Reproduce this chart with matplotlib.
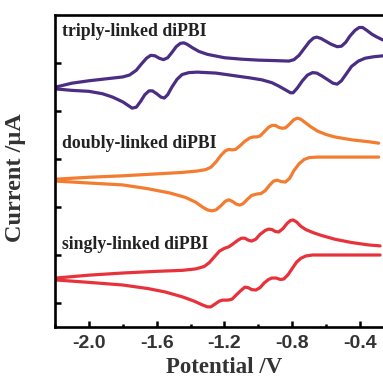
import matplotlib
matplotlib.use("Agg")
import matplotlib.pyplot as plt
from matplotlib.ticker import MultipleLocator

# triply-linked diPBI, forward (upper) and reverse (lower) branches
tri_up_v = [-2.194, -2.10, -2.0, -1.90, -1.80, -1.76, -1.72, -1.69, -1.66, -1.635,
            -1.61, -1.585, -1.56, -1.535, -1.51, -1.485, -1.46, -1.44, -1.42, -1.39,
            -1.35, -1.30, -1.20, -1.10, -1.00, -0.90, -0.82, -0.79, -0.76, -0.73,
            -0.70, -0.675, -0.655, -0.63, -0.60, -0.57, -0.535, -0.51, -0.485, -0.46,
            -0.43, -0.405, -0.385, -0.36, -0.33, -0.30, -0.265]
tri_up_i = [5.00, 5.08, 5.13, 5.17, 5.21, 5.25, 5.35, 5.48, 5.60, 5.66,
            5.65, 5.60, 5.57, 5.61, 5.72, 5.84, 5.91, 5.92, 5.89, 5.82,
            5.74, 5.68, 5.61, 5.58, 5.56, 5.55, 5.54, 5.57, 5.66, 5.80,
            5.94, 6.02, 6.04, 6.01, 5.95, 5.89, 5.84, 5.85, 5.93, 6.06,
            6.18, 6.24, 6.24, 6.18, 6.10, 6.04, 5.98]
tri_dn_v = [-2.194, -2.10, -2.0, -1.92, -1.86, -1.80, -1.77, -1.745, -1.72, -1.695,
            -1.67, -1.645, -1.625, -1.60, -1.575, -1.555, -1.535, -1.51, -1.48, -1.45,
            -1.41, -1.36, -1.25, -1.15, -1.05, -0.98, -0.92, -0.88, -0.84, -0.81,
            -0.795, -0.77, -0.74, -0.71, -0.68, -0.655, -0.625, -0.59, -0.56, -0.535,
            -0.51, -0.48, -0.45, -0.41, -0.37, -0.32, -0.265]
tri_dn_i = [4.96, 4.93, 4.91, 4.86, 4.79, 4.69, 4.62, 4.56, 4.58, 4.70,
            4.84, 4.92, 4.92, 4.86, 4.79, 4.77, 4.84, 5.00, 5.16, 5.26,
            5.30, 5.31, 5.29, 5.24, 5.19, 5.15, 5.09, 5.02, 4.94, 4.88,
            4.88, 4.98, 5.13, 5.25, 5.30, 5.29, 5.23, 5.15, 5.08, 5.06,
            5.13, 5.28, 5.43, 5.54, 5.60, 5.63, 5.65]

# doubly-linked diPBI
dbl_up_v = [-2.194, -2.0, -1.80, -1.60, -1.45, -1.36, -1.31, -1.28, -1.25, -1.22,
            -1.195, -1.175, -1.155, -1.135, -1.11, -1.08, -1.05, -1.03, -1.01, -0.99,
            -0.965, -0.94, -0.92, -0.90, -0.88, -0.86, -0.84, -0.815, -0.79, -0.77,
            -0.75, -0.72, -0.69, -0.65, -0.60, -0.55, -0.45, -0.35, -0.29]
dbl_up_i = [3.08, 3.12, 3.15, 3.19, 3.22, 3.25, 3.28, 3.33, 3.44, 3.58,
            3.67, 3.70, 3.69, 3.70, 3.77, 3.87, 3.94, 3.96, 3.96, 3.98,
            4.07, 4.16, 4.20, 4.20, 4.16, 4.14, 4.15, 4.23, 4.32, 4.35,
            4.33, 4.25, 4.17, 4.08, 4.01, 3.96, 3.90, 3.86, 3.83]
dbl_dn_v = [-2.194, -2.0, -1.80, -1.65, -1.52, -1.43, -1.37, -1.33, -1.30, -1.275,
            -1.25, -1.22, -1.195, -1.175, -1.155, -1.13, -1.11, -1.09, -1.065, -1.04,
            -1.01, -0.985, -0.96, -0.935, -0.91, -0.89, -0.865, -0.84, -0.815, -0.79,
            -0.76, -0.73, -0.70, -0.65, -0.55, -0.29]
dbl_dn_i = [3.04, 3.00, 2.96, 2.88, 2.79, 2.70, 2.60, 2.50, 2.44, 2.42,
            2.44, 2.53, 2.62, 2.65, 2.62, 2.56, 2.54, 2.57, 2.66, 2.74,
            2.77, 2.78, 2.84, 2.95, 3.04, 3.06, 3.03, 3.02, 3.10, 3.26,
            3.40, 3.49, 3.53, 3.54, 3.54, 3.54]

# singly-linked diPBI
sgl_up_v = [-2.194, -2.0, -1.80, -1.60, -1.45, -1.37, -1.32, -1.29, -1.26, -1.23,
            -1.20, -1.175, -1.15, -1.12, -1.10, -1.08, -1.06, -1.04, -1.015, -0.99,
            -0.96, -0.94, -0.92, -0.90, -0.88, -0.855, -0.83, -0.81, -0.795, -0.775,
            -0.75, -0.72, -0.68, -0.63, -0.55, -0.45, -0.35, -0.282]
sgl_up_i = [1.02, 1.08, 1.125, 1.16, 1.18, 1.21, 1.26, 1.34, 1.46, 1.58,
            1.64, 1.67, 1.73, 1.81, 1.85, 1.85, 1.81, 1.79, 1.83, 1.93,
            2.01, 2.04, 2.03, 1.99, 1.98, 2.05, 2.16, 2.22, 2.23, 2.19,
            2.10, 2.03, 1.97, 1.91, 1.83, 1.76, 1.71, 1.69]
sgl_dn_v = [-2.194, -2.0, -1.80, -1.65, -1.55, -1.45, -1.38, -1.33, -1.30, -1.28,
            -1.255, -1.23, -1.21, -1.18, -1.155, -1.13, -1.10, -1.08, -1.06, -1.04,
            -1.015, -0.99, -0.965, -0.94, -0.92, -0.895, -0.87, -0.85, -0.825, -0.80,
            -0.775, -0.75, -0.72, -0.68, -0.58, -0.282]
sgl_dn_i = [0.98, 0.93, 0.875, 0.80, 0.73, 0.63, 0.54, 0.46, 0.42, 0.42,
            0.48, 0.54, 0.56, 0.56, 0.58, 0.67, 0.77, 0.83, 0.82, 0.78,
            0.77, 0.82, 0.92, 0.99, 1.02, 1.02, 0.99, 1.00, 1.09, 1.22,
            1.35, 1.43, 1.48, 1.50, 1.50, 1.50]

labels = ["triply-linked diPBI", "doubly-linked diPBI", "singly-linked diPBI"]
label_y = [6.15, 3.83, 1.71]
colors = ["#4b2d83", "#f47c30", "#e8323b"]

curves = [(tri_up_v, tri_up_i, tri_dn_v, tri_dn_i),
          (dbl_up_v, dbl_up_i, dbl_dn_v, dbl_dn_i),
          (sgl_up_v, sgl_up_i, sgl_dn_v, sgl_dn_i)]

fig = plt.figure(figsize=(3.83, 3.83), dpi=100)
ax = fig.add_axes([0.1436, 0.1462, 0.885, 0.8146])

for (uv, ui, dv, di), c, lab, ly in zip(curves, colors, labels, label_y):
    ax.plot(uv, ui, color=c, lw=2.3, solid_joinstyle="round", solid_capstyle="round")
    ax.plot(dv, di, color=c, lw=2.3, solid_joinstyle="round", solid_capstyle="round")
    ax.text(-2.159, ly, lab, ha="left", va="center", fontsize=12.8,
            fontweight="bold", family="Liberation Serif", color="#222222")

ax.set_xlim(-2.2, -0.2)
ax.set_ylim(0, 6.5)
ax.xaxis.set_minor_locator(MultipleLocator(0.2))
ax.set_xticks([-2.0, -1.6, -1.2, -0.8, -0.4])
ax.set_xticklabels(["-2.0", "-1.6", "-1.2", "-0.8", "-0.4"])
ax.set_yticks([0.5, 1.5, 2.5, 3.5, 4.5, 5.5])
ax.set_yticklabels([])

for s in ax.spines.values():
    s.set_linewidth(1.9)
ax.tick_params(which="major", direction="in", length=4, width=1.8)
ax.tick_params(which="minor", direction="in", length=2, width=1.8)
ax.tick_params(axis="x", which="major", pad=6)
for t in ax.get_xticklabels():
    t.set_fontsize(14)
    t.set_fontweight("bold")
    t.set_family("Liberation Sans")
    t.set_color("#333333")

ax.set_xlabel("Potential /V", fontsize=16.5, fontweight="bold",
              family="Liberation Serif", color="#333333", labelpad=3)
ax.set_ylabel("Current /\u03bcA", fontsize=17.5, fontweight="bold",
              family="Liberation Serif", color="#333333")
ax.yaxis.set_label_coords(-0.085, 0.48)

fig.savefig("out.png", dpi=100)
